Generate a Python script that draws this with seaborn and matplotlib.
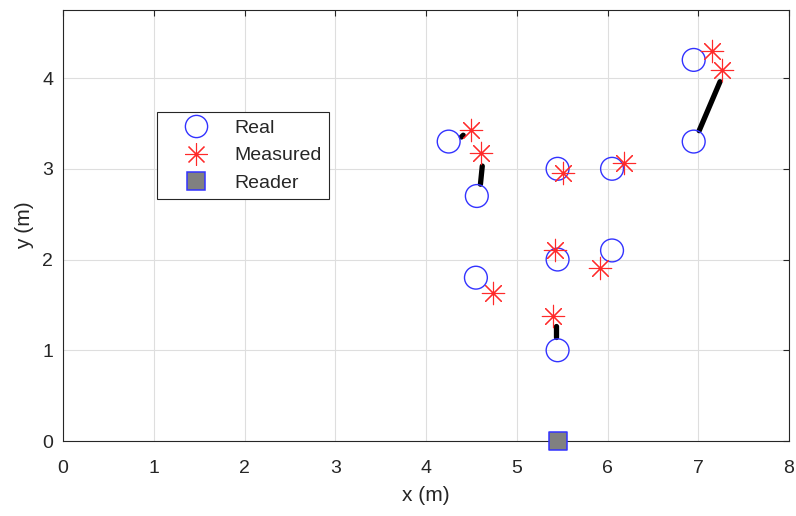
import numpy as np
import pandas as pd
import matplotlib
matplotlib.use("Agg")
import matplotlib.pyplot as plt
import seaborn as sns
from matplotlib.lines import Line2D

# Data
real_x = [4.25, 4.56, 5.45, 6.05, 6.95, 6.95, 4.55, 5.45, 6.05, 5.45]
real_y = [3.30, 2.70, 3.00, 3.00, 4.20, 3.30, 1.80, 2.00, 2.10, 1.00]
meas_x = [4.50, 4.61, 5.51, 6.18, 7.15, 7.26, 4.74, 5.42, 5.92, 5.40]
meas_y = [3.43, 3.17, 2.95, 3.06, 4.30, 4.09, 1.63, 2.10, 1.91, 1.38]
reader_x = [5.45]
reader_y = [0.0]
# error segments (start/end)
seg_x0 = [4.39, 4.60, 7.01, 5.43]
seg_y0 = [3.35, 2.83, 3.42, 1.15]
seg_x1 = [4.41, 4.62, 7.24, 5.43]
seg_y1 = [3.37, 3.03, 3.96, 1.27]
xticks = [0, 1, 2, 3, 4, 5, 6, 7, 8]
yticks = [0, 1, 2, 3, 4]

sns.set_theme(style="white")
plt.rcParams['font.family'] = ['Liberation Sans', 'DejaVu Sans']

fig = plt.figure(figsize=(7.96, 5.16), dpi=100)
ax = fig.add_axes([63/796, 1-441/516, 726/796, 431/516])

segs = pd.DataFrame({
    "x": seg_x0 + seg_x1,
    "y": seg_y0 + seg_y1,
    "seg": list(range(len(seg_x0))) * 2,
})
sns.lineplot(data=segs, x="x", y="y", units="seg", estimator=None, sort=False,
             color="black", linewidth=3.8, ax=ax, zorder=3, legend=False)

real_df = pd.DataFrame({"x": real_x, "y": real_y})
meas_df = pd.DataFrame({"x": meas_x, "y": meas_y})
rd_df = pd.DataFrame({"x": reader_x, "y": reader_y})

sns.scatterplot(data=real_df, x="x", y="y", marker="o", s=270,
                facecolors="none", edgecolor="#3333ff", linewidth=1.0, ax=ax, zorder=4)
sns.scatterplot(data=meas_df, x="x", y="y", marker=(8, 2, 0), s=260,
                color="#ff2a2a", edgecolor="#ff2a2a", linewidth=0.8, ax=ax, zorder=5)
sns.scatterplot(data=rd_df, x="x", y="y", marker="s", s=170,
                color="#808080", edgecolor="#3333ff", linewidth=1.1, ax=ax, zorder=6,
                clip_on=False)

ax.set_xlim(0, 8)
ax.set_ylim(0, 4.75)
ax.set_xticks(xticks)
ax.set_yticks(yticks)
ax.grid(True, color="#dedede", linewidth=0.8)
ax.set_axisbelow(True)
for sp in ax.spines.values():
    sp.set_color("#262626")
    sp.set_linewidth(0.8)
ax.tick_params(direction="in", length=4, width=0.8, color="#262626",
               top=True, right=True, labelsize=14, labelcolor="#262626")
ax.tick_params(axis="x", pad=14)
ax.tick_params(axis="y", pad=7)
ax.set_xlabel("x (m)", fontsize=15, color="#262626", labelpad=6)
ax.set_ylabel("y (m)", fontsize=15, color="#262626", labelpad=6)

handles = [
    Line2D([], [], linestyle="none", marker="o", markersize=16, markerfacecolor="none",
           markeredgecolor="#3333ff", markeredgewidth=1.0),
    Line2D([], [], linestyle="none", marker=(8, 2, 0), markersize=16,
           color="#ff2a2a", markeredgewidth=0.8),
    Line2D([], [], linestyle="none", marker="s", markersize=13, markerfacecolor="#808080",
           markeredgecolor="#3333ff", markeredgewidth=1.1),
]
leg = ax.legend(handles, ["Real", "Measured", "Reader"], loc="upper left",
                bbox_to_anchor=((157-63)/726, (441-112)/431), fontsize=14,
                frameon=True, fancybox=False, edgecolor="#262626", framealpha=1,
                handlelength=3.3, handletextpad=0.3, borderpad=0.38, labelspacing=0.5,
                borderaxespad=0)
leg.get_frame().set_linewidth(0.8)

fig.savefig("out.png", dpi=100)
